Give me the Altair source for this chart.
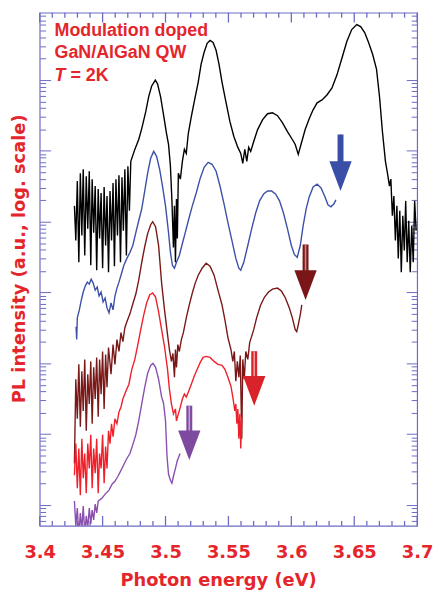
import altair as alt
import pandas as pd

# ---------------- data: (photon energy eV, log10 PL intensity) ----------------
black = [(3.4276,5.224),(3.4287,4.734),(3.4299,5.573),(3.4311,4.427),(3.4323,5.685),(3.4335,4.804),(3.4346,5.741),(3.4358,4.524),(3.4370,5.643),(3.4382,4.902),(3.4394,5.713),(3.4406,4.385),(3.4417,5.601),(3.4429,4.846),(3.4441,5.504),(3.4453,4.315),(3.4465,5.462),(3.4476,4.762),(3.4488,5.406),(3.4500,4.343),(3.4512,5.490),(3.4524,4.664),(3.4535,5.364),(3.4547,4.287),(3.4559,5.434),(3.4571,4.734),(3.4583,5.545),(3.4594,4.371),(3.4606,5.601),(3.4618,4.804),(3.4630,5.657),(3.4642,4.427),(3.4654,5.629),(3.4665,4.874),(3.4677,5.741),(3.4689,4.524),(3.4701,5.783),(3.4713,5.154),(3.4724,5.853),
         (3.4756,6.021),(3.4787,6.161),(3.4811,6.315),(3.4843,6.553),(3.4866,6.762),(3.4890,6.916),(3.4919,7.000),(3.4937,6.944),(3.4961,6.762),(3.4984,6.511),(3.5008,6.245),(3.5024,6.091),(3.5039,5.783),(3.5051,5.294),(3.5063,4.636),(3.5071,5.224),(3.5079,4.427),(3.5087,5.322),(3.5094,4.762),(3.5102,5.685),(3.5118,5.601),(3.5134,5.853),(3.5150,6.021),(3.5165,5.965),(3.5181,6.245),(3.5205,6.483),(3.5228,6.692),(3.5260,6.972),(3.5283,7.224),(3.5307,7.392),(3.5331,7.518),(3.5354,7.559),(3.5378,7.531),(3.5402,7.420),(3.5425,7.224),(3.5449,6.972),(3.5480,6.692),(3.5512,6.413),(3.5543,6.203),(3.5575,6.049),(3.5598,5.965),(3.5614,5.825),(3.5630,6.021),(3.5646,5.853),(3.5661,6.049),(3.5677,5.993),(3.5701,6.133),(3.5732,6.301),(3.5772,6.441),(3.5811,6.525),(3.5850,6.539),(3.5890,6.497),(3.5929,6.399),(3.5969,6.273),(3.6008,6.161),(3.6031,6.091),(3.6055,5.951),(3.6079,6.105),(3.6110,6.301),(3.6142,6.455),(3.6173,6.580),(3.6205,6.678),(3.6244,6.720),(3.6283,6.790),(3.6323,6.888),(3.6362,7.070),(3.6402,7.308),(3.6441,7.545),(3.6480,7.713),(3.6520,7.783),(3.6551,7.755),(3.6583,7.671),(3.6614,7.531),(3.6646,7.364),(3.6677,7.154),(3.6701,6.762),(3.6724,6.273),(3.6748,5.853),(3.6764,5.685),(3.6780,5.504),(3.6791,5.601),(3.6803,5.084),(3.6815,5.364),(3.6827,4.734),(3.6839,5.224),(3.6850,4.482),(3.6862,5.154),(3.6874,4.287),(3.6886,5.084),(3.6898,4.594),(3.6909,5.294),(3.6921,4.427),(3.6933,5.014),(3.6945,4.287),(3.6957,4.944),(3.6969,4.427),(3.6980,5.294),(3.6992,4.874)]

blue = [(3.4289,3.518),(3.4294,3.336),(3.4299,3.643),(3.4315,3.755),(3.4331,3.895),(3.4346,4.007),(3.4362,4.091),(3.4378,4.147),(3.4394,4.119),(3.4409,4.189),(3.4425,4.133),(3.4441,4.035),(3.4457,4.077),(3.4472,3.951),(3.4488,4.007),(3.4504,3.867),(3.4520,3.923),(3.4535,3.783),(3.4551,3.713),(3.4567,3.853),(3.4583,3.755),(3.4598,3.951),(3.4614,4.063),(3.4630,4.147),(3.4646,4.245),(3.4669,4.385),(3.4693,4.482),(3.4717,4.566),(3.4740,4.664),(3.4764,4.846),(3.4787,5.014),(3.4811,5.182),(3.4835,5.434),(3.4858,5.685),(3.4882,5.895),(3.4906,5.993),(3.4929,5.923),(3.4953,5.741),(3.4976,5.504),(3.5000,5.224),(3.5024,4.846),(3.5039,4.566),(3.5055,4.385),(3.5071,4.343),(3.5087,4.427),(3.5110,4.524),(3.5134,4.692),(3.5157,4.846),(3.5181,5.014),(3.5213,5.224),(3.5244,5.406),(3.5276,5.615),(3.5307,5.769),(3.5339,5.839),(3.5370,5.811),(3.5402,5.713),(3.5433,5.504),(3.5465,5.252),(3.5496,4.986),(3.5528,4.734),(3.5559,4.482),(3.5583,4.343),(3.5598,4.315),(3.5622,4.427),(3.5654,4.664),(3.5685,4.902),(3.5717,5.126),(3.5748,5.294),(3.5780,5.392),(3.5811,5.434),(3.5843,5.434),(3.5874,5.392),(3.5906,5.294),(3.5937,5.126),(3.5969,4.902),(3.6000,4.664),(3.6024,4.538),(3.6047,4.497),(3.6071,4.664),(3.6094,4.944),(3.6118,5.182),(3.6142,5.350),(3.6173,5.490),(3.6205,5.531),(3.6236,5.476),(3.6268,5.350),(3.6291,5.238),(3.6315,5.210),(3.6339,5.252),(3.6354,5.308)]

darkred = [(3.4276,1.587),(3.4287,2.776),(3.4299,2.217),(3.4311,2.986),(3.4323,2.105),(3.4335,2.888),(3.4346,2.329),(3.4358,3.056),(3.4370,2.049),(3.4382,2.846),(3.4394,2.427),(3.4406,3.028),(3.4417,2.147),(3.4429,2.944),(3.4441,2.497),(3.4453,3.084),(3.4465,2.245),(3.4476,3.056),(3.4488,2.566),(3.4500,3.168),(3.4512,2.357),(3.4524,3.126),(3.4535,2.664),(3.4547,3.224),
           (3.4567,2.846),(3.4583,3.266),(3.4598,2.986),(3.4614,3.336),(3.4630,3.168),(3.4646,3.434),(3.4661,3.308),(3.4677,3.504),(3.4693,3.587),(3.4717,3.699),(3.4740,3.839),(3.4764,3.979),(3.4787,4.175),(3.4811,4.427),(3.4835,4.650),(3.4858,4.832),(3.4882,4.958),(3.4898,5.000),(3.4921,4.930),(3.4945,4.664),(3.4969,4.133),(3.4992,3.755),(3.5016,3.406),(3.5031,3.196),(3.5047,3.028),(3.5059,3.140),(3.5071,2.804),(3.5079,3.196),(3.5087,2.944),(3.5098,3.266),(3.5110,3.168),(3.5126,3.336),(3.5142,3.434),(3.5165,3.643),(3.5189,3.825),(3.5213,3.993),(3.5236,4.133),(3.5260,4.245),(3.5291,4.343),(3.5323,4.413),(3.5354,4.371),(3.5386,4.245),(3.5417,4.035),(3.5449,3.825),(3.5472,3.615),(3.5496,3.364),(3.5520,3.196),(3.5535,3.028),(3.5547,3.168),(3.5559,2.748),(3.5571,3.028),(3.5583,2.804),(3.5594,3.112),(3.5606,1.937),(3.5614,3.056),(3.5626,2.776),(3.5638,3.168),(3.5654,3.056),(3.5669,3.294),(3.5701,3.476),(3.5724,3.643),(3.5756,3.825),(3.5787,3.937),(3.5819,4.007),(3.5850,4.049),(3.5890,4.063),(3.5921,4.021),(3.5953,3.923),(3.5984,3.783),(3.6008,3.643),(3.6031,3.476),(3.6043,3.448),(3.6055,3.545),(3.6071,3.685),(3.6083,3.825)]

red = [(3.4276,1.420),(3.4287,1.867),(3.4299,1.238),(3.4311,1.797),(3.4323,1.140),(3.4335,1.937),(3.4346,1.378),(3.4358,1.727),(3.4370,1.168),(3.4382,1.867),(3.4394,1.518),(3.4406,1.993),(3.4417,1.238),(3.4429,1.797),(3.4441,1.448),(3.4453,1.937),(3.4465,1.168),(3.4476,1.727),(3.4488,1.518),(3.4500,1.993),(3.4512,1.308),(3.4524,1.825),(3.4535,1.518),(3.4547,2.049),
       (3.4559,1.867),(3.4571,2.147),(3.4583,1.965),(3.4598,2.217),(3.4614,2.147),(3.4630,2.315),(3.4646,2.385),(3.4661,2.497),(3.4685,2.608),(3.4709,2.706),(3.4732,2.916),(3.4756,3.056),(3.4780,3.266),(3.4803,3.476),(3.4827,3.685),(3.4850,3.853),(3.4874,3.965),(3.4898,3.993),(3.4921,3.937),(3.4945,3.727),(3.4969,3.476),(3.4992,3.238),(3.5016,2.916),(3.5031,2.636),(3.5047,2.427),(3.5063,2.287),(3.5079,2.357),(3.5087,2.189),(3.5102,2.287),(3.5118,2.385),(3.5134,2.497),(3.5150,2.566),(3.5165,2.524),(3.5181,2.594),(3.5205,2.706),(3.5228,2.818),(3.5252,2.916),(3.5276,3.014),(3.5299,3.084),(3.5323,3.098),(3.5354,3.084),(3.5386,3.028),(3.5417,2.986),(3.5449,2.972),(3.5472,2.916),(3.5496,2.804),(3.5520,2.678),(3.5535,2.524),(3.5551,2.329),(3.5559,2.427),(3.5567,2.147),(3.5575,2.357),(3.5583,1.937),(3.5591,2.287),(3.5598,1.797),(3.5606,2.245)]

purple = [(3.4276,1.056),(3.4287,0.706),(3.4299,0.958),(3.4311,0.566),(3.4323,0.888),(3.4335,0.650),(3.4346,0.986),(3.4358,0.594),(3.4370,0.846),(3.4382,0.678),(3.4394,0.958),(3.4406,0.734),(3.4417,0.930),(3.4429,0.790),(3.4441,1.014),(3.4453,0.888),(3.4465,1.056),
          (3.4496,1.098),(3.4520,1.154),(3.4551,1.210),(3.4575,1.294),(3.4598,1.336),(3.4622,1.406),(3.4646,1.490),(3.4669,1.573),(3.4693,1.657),(3.4717,1.727),(3.4740,1.853),(3.4764,1.993),(3.4787,2.189),(3.4811,2.427),(3.4835,2.664),(3.4858,2.860),(3.4882,2.972),(3.4900,3.000),(3.4921,2.944),(3.4945,2.776),(3.4969,2.524),(3.4984,2.441),(3.5000,2.189),(3.5012,1.685),(3.5024,1.434),(3.5039,1.350),(3.5051,1.308),(3.5063,1.406),(3.5079,1.518),(3.5094,1.629),(3.5116,1.727)]

series_names = ["black", "blue", "darkred", "red", "purple"]
series_colors = ["#000000", "#3c50a8", "#7a1818", "#f0202a", "#8a50b0"]

# arrows: energy, log10 of shaft top, log10 of arrow tip
arrow_e = [3.6391, 3.6113, 3.5705, 3.5189]
arrow_top = [6.231, 4.678, 3.172, 2.403]
arrow_tip = [5.434, 3.895, 2.403, 1.634]
arrow_colors = ["#3a4ea7", "#7b1618", "#d8232a", "#7e4aa0"]
arrow_inner = ["#3a4ea7", "#c88a8a", "#f09a9a", "#c0a0d8"]

# annotation
note_lines = ["Modulation doped", "GaN/AlGaN QW"]
note_e = [3.4118, 3.4118]
note_l = [7.629, 7.308]
temp_parts = ["T", "= 2K"]
temp_e = [3.4118, 3.4244]
temp_l = [6.986, 6.986]
temp_style = ["italic", "normal"]

# axes
x_major = [3.40, 3.45, 3.50, 3.55, 3.60, 3.65, 3.70]
x_minor = [3.41, 3.42, 3.43, 3.44, 3.46, 3.47, 3.48, 3.49, 3.51, 3.52, 3.53, 3.54,
           3.56, 3.57, 3.58, 3.59, 3.61, 3.62, 3.63, 3.64, 3.66, 3.67, 3.68, 3.69]
y_decade_exp = [0, 1, 2, 3, 4, 5, 6, 7]
y_minor_mult = [2, 3, 4, 5, 6, 7, 8, 9]
X_DOMAIN = [3.4, 3.7]
Y_LOG_DOMAIN = [0.706, 7.951]

# ---------------- build ----------------
RED = "#e4262c"
FRAME = "#6c6cc4"
FONT = "DejaVu Sans"
NOTE_FONT = "Liberation Sans"
W, H = 381, 518
MAJOR_LEN, MINOR_LEN = 10, 5

y_lo, y_hi = 10 ** Y_LOG_DOMAIN[0], 10 ** Y_LOG_DOMAIN[1]
y_major = [10.0 ** k for k in y_decade_exp if y_lo <= 10.0 ** k <= y_hi]
y_minor = [m * 10.0 ** k for k in y_decade_exp for m in y_minor_mult if y_lo <= m * 10.0 ** k <= y_hi]
px_per_decade = H / (Y_LOG_DOMAIN[1] - Y_LOG_DOMAIN[0])

rows = []
for name, pts in zip(series_names, [black, blue, darkred, red, purple]):
    for i, (e, l) in enumerate(pts):
        rows.append({"series": name, "E": e, "I": 10 ** l, "idx": i})
df = pd.DataFrame(rows)

# inward x ticks on the bottom and top edges of the frame
trows = []
for vals, length in ((x_major, MAJOR_LEN), (x_minor, MINOR_LEN)):
    f = 10 ** (length / px_per_decade)
    for v in vals:
        trows.append({"tickE": v, "ya": y_lo, "yb": y_lo * f})
        trows.append({"tickE": v, "ya": y_hi, "yb": y_hi / f})
xticks_df = pd.DataFrame(trows)

arr = pd.DataFrame({
    "E": arrow_e,
    "top": [10 ** v for v in arrow_top],
    "mid": [10 ** (v + 0.21) for v in arrow_tip],
    "base": [10 ** (v + 0.40) for v in arrow_tip],
    "color": arrow_colors,
    "inner": arrow_inner,
})

notes = pd.DataFrame({"E": note_e, "I": [10 ** v for v in note_l], "text": note_lines})
temp = pd.DataFrame({"E": temp_e, "I": [10 ** v for v in temp_l], "text": temp_parts, "style": temp_style})
frame_df = pd.DataFrame({"E": X_DOMAIN, "I": [y_lo, y_hi]})

xs = alt.Scale(domain=X_DOMAIN, nice=False, zero=False)
ys = alt.Scale(type="log", domain=[y_lo, y_hi], nice=False)

xtick_rules = alt.Chart(xticks_df).mark_rule(color=FRAME, strokeWidth=1.3).encode(
    x=alt.X("tickE:Q", scale=xs, axis=None),
    y=alt.Y("ya:Q", scale=ys, axis=None),
    y2="yb:Q",
)

lines = alt.Chart(df).mark_line(strokeWidth=1.4, clip=True).encode(
    x=alt.X("E:Q", scale=xs, axis=alt.Axis(
        orient="bottom", values=x_major, format="~g", ticks=False, tickSize=0, domain=False, grid=False,
        labelFont=FONT, labelFontSize=18, labelFontWeight="bold", labelColor=RED,
        labelBaseline="alphabetic", labelPadding=32, labelFlush=False, labelOverlap=False,
        title="Photon energy (eV)", titleFont=FONT, titleFontSize=18, titleFontWeight="bold",
        titleColor=RED, titleBaseline="alphabetic", titleAlign="center", titleX=180, titleY=60)),
    y=alt.Y("I:Q", scale=ys, axis=alt.Axis(
        orient="left", labels=False, ticks=False, tickSize=0, domain=False, grid=False,
        title="PL intensity (a.u., log. scale)", titleFont=FONT, titleFontSize=18, titleFontWeight="bold",
        titleColor=RED, titleBaseline="alphabetic", titleAlign="center", titleAngle=270, titleX=-15, titleY=248)),
    color=alt.Color("series:N", scale=alt.Scale(domain=series_names, range=series_colors), legend=None),
    order="idx:Q",
)


def y_tick_layer(orient, vals, size):
    # axis moved to the opposite edge so its ticks point into the frame
    return alt.Chart(frame_df).mark_point(opacity=0).encode(
        x=alt.X("E:Q", scale=xs, axis=None),
        y=alt.Y("I:Q", scale=ys, axis=alt.Axis(
            orient=orient, offset=-W, values=vals, tickSize=size, tickColor=FRAME, tickWidth=1,
            labels=False, domain=False, grid=False, title=None)),
    )


yticks = [
    y_tick_layer("right", y_major, 11), y_tick_layer("right", y_minor, 6),
    y_tick_layer("left", y_major, 11), y_tick_layer("left", y_minor, 6),
]

shaft = alt.Chart(arr).mark_rule(strokeWidth=6).encode(
    x=alt.X("E:Q", scale=xs, axis=None),
    y=alt.Y("top:Q", scale=ys, axis=None),
    y2="mid:Q",
    color=alt.Color("color:N", scale=None),
)
shaft_inner = alt.Chart(arr).mark_rule(strokeWidth=1.6).encode(
    x=alt.X("E:Q", scale=xs, axis=None),
    y=alt.Y("top:Q", scale=ys, axis=None),
    y2="base:Q",
    color=alt.Color("inner:N", scale=None),
)
head = alt.Chart(arr).mark_point(
    shape="M-0.75,-1L0.75,-1L0,1Z", size=900, filled=True, opacity=1, strokeWidth=0
).encode(
    x=alt.X("E:Q", scale=xs, axis=None),
    y=alt.Y("mid:Q", scale=ys, axis=None),
    fill=alt.Color("color:N", scale=None),
)

note_text = alt.Chart(notes).mark_text(
    align="left", baseline="alphabetic", font=NOTE_FONT, fontSize=18, fontWeight="bold", color=RED
).encode(
    x=alt.X("E:Q", scale=xs, axis=None),
    y=alt.Y("I:Q", scale=ys, axis=None),
    text="text:N",
)
temp_italic = alt.Chart(temp[temp["style"] == "italic"]).mark_text(
    align="left", baseline="alphabetic", font=NOTE_FONT, fontSize=18, fontWeight="bold", color=RED,
    fontStyle="italic"
).encode(
    x=alt.X("E:Q", scale=xs, axis=None),
    y=alt.Y("I:Q", scale=ys, axis=None),
    text="text:N",
)
temp_normal = alt.Chart(temp[temp["style"] == "normal"]).mark_text(
    align="left", baseline="alphabetic", font=NOTE_FONT, fontSize=18, fontWeight="bold", color=RED
).encode(
    x=alt.X("E:Q", scale=xs, axis=None),
    y=alt.Y("I:Q", scale=ys, axis=None),
    text="text:N",
)

chart = alt.layer(
    xtick_rules, lines, *yticks, shaft, shaft_inner, head, note_text, temp_italic, temp_normal
).resolve_axis(
    x="independent", y="independent"
).properties(
    width=W, height=H,
    padding={"left": 32, "top": 2, "right": 16, "bottom": 62},
    autosize=alt.AutoSizeParams(type="none"),
).configure_view(
    stroke=FRAME, strokeWidth=1.2
)

chart.save("out.html", embed_options={"renderer": "svg", "actions": False})
